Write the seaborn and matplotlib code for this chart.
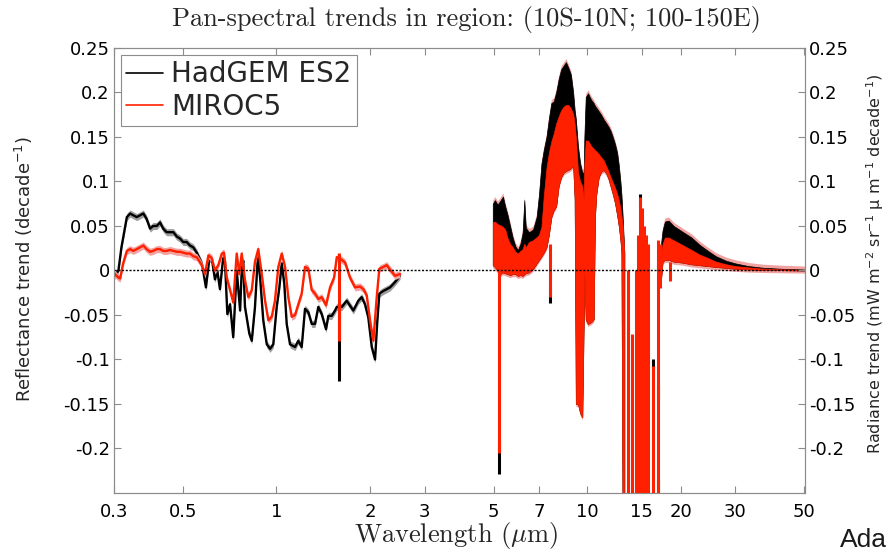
import numpy as np
import pandas as pd
import matplotlib
matplotlib.use("Agg")
import matplotlib.pyplot as plt
from matplotlib.ticker import NullLocator
import seaborn as sns

# ---- values ----
# visible / near-IR reflectance trends (decade^-1)
vis_wl_black = [0.302, 0.310, 0.317, 0.330, 0.338, 0.346, 0.355, 0.364, 0.373, 0.382,
                0.392, 0.401, 0.412, 0.422, 0.432, 0.443, 0.454, 0.466, 0.478, 0.489,
                0.501, 0.514, 0.527, 0.540, 0.554, 0.575, 0.582, 0.593, 0.608, 0.619,
                0.634, 0.645, 0.658, 0.675, 0.683, 0.695, 0.709, 0.726, 0.745, 0.764,
                0.773, 0.782, 0.792, 0.818, 0.833, 0.853, 0.871, 0.886, 0.907, 0.931,
                0.954, 0.977, 1.002, 1.022, 1.040, 1.060, 1.079, 1.106, 1.148, 1.176,
                1.206, 1.236, 1.267, 1.299, 1.331, 1.364, 1.399, 1.444, 1.469, 1.507,
                1.544, 1.564, 1.623, 1.684, 1.768, 1.835, 1.882, 1.928, 1.976, 2.027,
                2.077, 2.113, 2.144, 2.209, 2.321, 2.409, 2.500]
vis_black = [-0.006, 0.000, 0.026, 0.060, 0.064, 0.062, 0.060, 0.062, 0.064, 0.058,
             0.047, 0.050, 0.050, 0.054, 0.047, 0.043, 0.043, 0.043, 0.038, 0.036,
             0.032, 0.032, 0.028, 0.026, 0.020, 0.008, -0.002, -0.019, 0.013, 0.014,
             -0.010, 0.000, -0.021, 0.017, 0.010, -0.049, -0.038, -0.075, 0.000, -0.045,
             0.000, 0.011, -0.041, -0.071, -0.079, -0.041, 0.015, -0.008, -0.056, -0.083,
             -0.088, -0.083, -0.041, -0.019, 0.008, -0.015, -0.060, -0.083, -0.086, -0.079,
             -0.086, -0.043, -0.047, -0.060, -0.060, -0.041, -0.049, -0.066, -0.051, -0.051,
             -0.045, -0.041, -0.041, -0.034, -0.045, -0.034, -0.030, -0.038, -0.053, -0.086,
             -0.100, -0.056, -0.026, -0.023, -0.019, -0.013, -0.006]

vis_wl_red = [0.302, 0.310, 0.314, 0.321, 0.330, 0.338, 0.346, 0.355, 0.364, 0.373,
              0.382, 0.392, 0.401, 0.412, 0.422, 0.432, 0.443, 0.454, 0.466, 0.478,
              0.489, 0.501, 0.514, 0.527, 0.540, 0.554, 0.568, 0.575, 0.589, 0.604,
              0.619, 0.634, 0.650, 0.667, 0.678, 0.692, 0.709, 0.726, 0.745, 0.759,
              0.773, 0.792, 0.812, 0.833, 0.853, 0.874, 0.897, 0.919, 0.942, 0.966,
              0.989, 1.014, 1.040, 1.066, 1.092, 1.120, 1.148, 1.176, 1.206, 1.236,
              1.267, 1.299, 1.331, 1.364, 1.399, 1.444, 1.488, 1.533, 1.564, 1.623,
              1.663, 1.725, 1.791, 1.858, 1.905, 1.953, 2.001, 2.051, 2.103, 2.144,
              2.209, 2.265, 2.321, 2.409, 2.500]
vis_red = [-0.004, -0.008, -0.009, 0.008, 0.022, 0.024, 0.022, 0.024, 0.026, 0.028,
           0.024, 0.021, 0.022, 0.024, 0.024, 0.022, 0.022, 0.023, 0.022, 0.021,
           0.021, 0.020, 0.019, 0.019, 0.016, 0.015, 0.009, 0.006, -0.004, 0.017,
           0.014, 0.000, 0.006, 0.019, 0.020, -0.008, -0.022, -0.036, 0.019, -0.004,
           0.019, -0.011, -0.030, -0.022, 0.010, 0.024, -0.004, -0.034, -0.056, -0.052,
           -0.034, 0.004, 0.019, 0.004, -0.030, -0.052, -0.050, -0.038, -0.026, 0.004,
           0.002, -0.022, -0.026, -0.032, -0.030, -0.039, -0.019, -0.008, 0.015, 0.012,
           0.009, -0.008, -0.019, -0.018, -0.021, -0.028, -0.056, -0.079, -0.030, 0.002,
           0.004, 0.006, 0.001, -0.006, -0.004]

# thermal IR radiance trends: envelope of the dense spectra
ir_wl = [4.97, 5.05, 5.15, 5.25, 5.36, 5.45, 5.55, 5.65, 5.77, 5.88,
         5.99, 6.10, 6.20, 6.28, 6.35, 6.50, 6.70, 6.88, 7.00, 7.13,
         7.25, 7.40, 7.53, 7.67, 7.81, 7.95, 8.10, 8.25, 8.40, 8.55,
         8.70, 8.87, 9.02, 9.12, 9.20, 9.35, 9.50, 9.65, 9.75, 9.80,
         9.90, 10.07, 10.30, 10.50, 10.60, 10.70, 10.90, 11.10, 11.30, 11.50,
         11.70, 11.90, 12.10, 12.30, 12.50, 12.65, 12.80, 12.90, 13.00, 13.10,
         13.18,
         17.30, 17.50, 17.80, 18.30, 19.00, 20.20, 21.70, 23.00, 24.50, 26.00,
         28.00, 30.00, 33.00, 37.00, 42.00, 50.30]
ir_black_top = [0.075, 0.079, 0.074, 0.078, 0.083, 0.072, 0.062, 0.050, 0.036, 0.027,
                0.023, 0.030, 0.042, 0.079, 0.048, 0.043, 0.046, 0.060, 0.085, 0.120,
                0.135, 0.150, 0.170, 0.188, 0.190, 0.200, 0.215, 0.226, 0.230, 0.234,
                0.228, 0.220, 0.200, 0.180, 0.170, 0.139, 0.120, 0.110, 0.110, 0.150,
                0.195, 0.199, 0.192, 0.188, 0.185, 0.183, 0.179, 0.175, 0.170, 0.166,
                0.162, 0.157, 0.150, 0.142, 0.132, 0.118, 0.100, 0.085, 0.064, 0.040,
                0.020,
                0.030, 0.045, 0.055, 0.056, 0.050, 0.044, 0.037, 0.029, 0.022, 0.016,
                0.011, 0.008, 0.005, 0.003, 0.002, 0.001]
ir_red_top = [0.054, 0.055, 0.052, 0.051, 0.049, 0.046, 0.036, 0.030, 0.026, 0.021,
              0.019, 0.022, 0.024, 0.030, 0.026, 0.032, 0.034, 0.0375, 0.040, 0.049,
              0.083, 0.115, 0.132, 0.145, 0.154, 0.165, 0.173, 0.180, 0.184, 0.186,
              0.186, 0.182, 0.176, 0.165, 0.150, 0.110, 0.100, 0.095, 0.080, 0.120,
              0.146, 0.146, 0.140, 0.137, 0.135, 0.134, 0.131, 0.127, 0.124, 0.118,
              0.112, 0.105, 0.099, 0.093, 0.086, 0.079, 0.070, 0.062, 0.052, 0.035,
              0.020,
              0.020, 0.030, 0.037, 0.037, 0.034, 0.029, 0.023, 0.018, 0.014, 0.010,
              0.007, 0.005, 0.0035, 0.002, 0.0013, 0.0006]
ir_bottom = [0.006, 0.004, 0.000, -0.004, -0.002, -0.003, -0.004, -0.005, -0.004, -0.004,
             -0.006, -0.005, -0.006, -0.004, -0.003, -0.002, 0.002, 0.008, 0.012, 0.016,
             0.020, 0.026, 0.040, 0.060, 0.068, 0.072, 0.095, 0.105, 0.110, 0.112,
             0.113, 0.115, 0.118, 0.080, -0.150, -0.150, -0.160, -0.165, -0.060, 0.000,
             -0.055, -0.060, -0.058, -0.055, 0.060, 0.085, 0.105, 0.111, 0.113, 0.110,
             0.104, 0.095, 0.086, 0.076, 0.062, 0.050, 0.035, 0.020, -0.260, -0.260,
             -0.260,
             -0.010, 0.010, 0.012, 0.012, 0.010, 0.009, 0.007, 0.006, 0.005, 0.004,
             0.003, 0.002, 0.0012, 0.0007, 0.0004, 0.000]

# narrow absorption lines (wavelength, top, bottom)
red_spike_wl = [1.59, 5.20, 7.62, 13.50, 13.90, 14.40, 14.60, 14.80, 15.00, 15.20,
                15.45, 15.70, 16.30, 16.95, 17.15, 18.50]
red_spike_top = [0.020, 0.000, 0.030, 0.000, -0.071, 0.000, 0.040, 0.082, 0.070, 0.050,
                 0.040, 0.030, -0.107, 0.034, 0.030, 0.010]
red_spike_bottom = [-0.079, -0.205, -0.030, -0.260, -0.260, -0.260, -0.260, -0.260, -0.260, -0.260,
                    -0.260, -0.260, -0.260, -0.260, -0.020, -0.012]
black_spike_wl = [1.59, 5.20, 7.62, 14.80, 15.40, 16.30, 16.95, 16.95]
black_spike_top = [-0.040, -0.190, -0.020, 0.070, 0.035, -0.100, -0.130, -0.234]
black_spike_bottom = [-0.124, -0.229, -0.037, 0.086, 0.028, -0.110, -0.145, -0.260]

xticks = [0.3, 0.5, 1, 2, 3, 5, 7, 10, 15, 20, 30, 50]
xtick_labels = ['0.3', '0.5', '1', '2', '3', '5', '7', '10', '15', '20', '30', '50']
yticks = [-0.2, -0.15, -0.1, -0.05, 0, 0.05, 0.1, 0.15, 0.2, 0.25]
ytick_labels = ['-0.2', '-0.15', '-0.1', '-0.05', '0', '0.05', '0.1', '0.15', '0.2', '0.25']

models = ['HadGEM ES2', 'MIROC5']

# ---- styling ----
BLACK = '#000000'
RED = '#ff2000'
GRAY_BAND = '#9e9e9e'
PINK_BAND = '#f2a2a0'
FRAME = '#8c8c8c'
BAND = 0.004

sns.set_theme(style="ticks")
plt.rcParams['font.family'] = ['DejaVu Sans']

df = pd.concat([
    pd.DataFrame({'wavelength': vis_wl_black, 'trend': vis_black, 'model': models[0]}),
    pd.DataFrame({'wavelength': vis_wl_red, 'trend': vis_red, 'model': models[1]}),
])

fig = plt.figure(figsize=(8.92, 5.52), dpi=100)
ax = fig.add_axes([0.1278, 0.1069, 0.7747, 0.8062])

# thermal IR: filled envelopes
ir_wl_a = np.array(ir_wl)
bk_top = np.array(ir_black_top)
rd_top = np.array(ir_red_top)
bot = np.array(ir_bottom)
gap = np.searchsorted(ir_wl_a, 15.0)
for seg in (slice(0, gap), slice(gap, None)):
    ax.fill_between(ir_wl_a[seg], bot[seg] - 0.003, bk_top[seg] + 0.004,
                    color=PINK_BAND, lw=0, zorder=1)
    ax.fill_between(ir_wl_a[seg], bot[seg], bk_top[seg], color=BLACK, lw=0.5, zorder=2)
    ax.fill_between(ir_wl_a[seg], bot[seg], rd_top[seg], color=RED, lw=0.5, zorder=4)

ax.vlines(black_spike_wl, black_spike_bottom, black_spike_top, color=BLACK, lw=2.2, zorder=3)
ax.vlines(red_spike_wl, red_spike_bottom, red_spike_top, color=RED, lw=2.2, zorder=4)

# visible / near IR: lines with their uncertainty bands
colors = {models[0]: BLACK, models[1]: RED}
bands = {models[0]: GRAY_BAND, models[1]: PINK_BAND}
for i, m in enumerate(models):
    sub = df[df['model'] == m]
    ax.fill_between(sub['wavelength'], sub['trend'] - BAND, sub['trend'] + BAND,
                    color=bands[m], lw=0, zorder=1 + 2 * i)
    sns.lineplot(data=sub, x='wavelength', y='trend', color=colors[m], lw=1.7,
                 label=m, ax=ax, zorder=2 + 2 * i, estimator=None, sort=False)

ax.axhline(0, color='black', lw=1.0, ls=(0, (1.5, 1.2)), zorder=6)

ax.set_xscale('log')
ax.set_xlim(0.3, 50.3)
ax.set_ylim(-0.25, 0.25)
ax.set_xticks(xticks)
ax.set_xticklabels(xtick_labels)
ax.xaxis.set_minor_locator(NullLocator())
ax.set_yticks(yticks)
ax.set_yticklabels(ytick_labels)
ax.tick_params(axis='both', direction='in', length=5, width=0.8, color=FRAME,
               labelcolor='black', labelsize=13)
ax.tick_params(axis='x', top=True, bottom=True, pad=7)
ax.tick_params(axis='y', left=True, right=False, pad=3)
for sp in ax.spines.values():
    sp.set_color(FRAME)
    sp.set_linewidth(0.8)
ax.set_xlabel('')
ax.set_ylabel('Reflectance trend (decade$^{-1}$)', fontsize=13)
ax.yaxis.set_label_coords(-0.115, 0.503)

ax2 = ax.twinx()
ax2.set_ylim(-0.25, 0.25)
ax2.set_yticks(yticks)
ax2.set_yticklabels(ytick_labels)
ax2.tick_params(axis='y', direction='in', length=5, width=0.8, color=FRAME,
                labelcolor='black', labelsize=13, pad=3)
for sp in ax2.spines.values():
    sp.set_color(FRAME)
    sp.set_linewidth(0.8)
ax2.set_ylabel('Radiance trend (mW m$^{-2}$ sr$^{-1}$ \u03bc m$^{-1}$ decade$^{-1}$)',
               fontsize=11.5)
ax2.yaxis.set_label_coords(1.086, 0.516)

leg = ax.legend(loc='upper left', fontsize=20, frameon=True, fancybox=False,
                edgecolor=FRAME, framealpha=1, borderaxespad=0.25, borderpad=0.2,
                handlelength=1.3, handletextpad=0.3, labelspacing=0.15)
leg.get_frame().set_linewidth(0.8)
for h in leg.get_lines():
    h.set_linewidth(1.2)

fig.text(0.523, 0.964, 'Pan-spectral trends in region: (10S-10N; 100-150E)',
         fontfamily='cmr10', fontsize=19, ha='center', va='center')
fig.text(0.511, 0.029, r'Wavelength ($\mu$m)', fontfamily='cmr10', math_fontfamily='cm',
         fontsize=19, ha='center', va='center')
fig.text(840 / 892, 0.022, 'Ada', fontfamily='Liberation Sans', fontsize=19,
         color='#1a1a1a', ha='left', va='center')

fig.savefig('out.png', dpi=100)
